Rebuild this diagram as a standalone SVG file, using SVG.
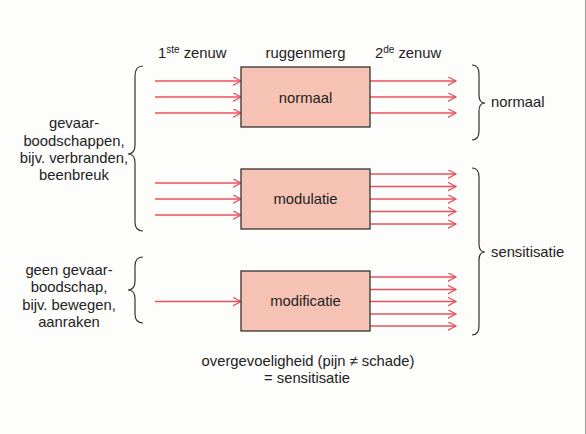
<svg xmlns="http://www.w3.org/2000/svg" width="586" height="434" viewBox="0 0 586 434">
<style>
text{font-family:"Liberation Sans",Arial,sans-serif;font-size:14.8px;fill:#222}
.mid{text-anchor:middle}
.box{fill:#f6c2b4;stroke:#333;stroke-width:1.3}
.arr{stroke:#e8505e;stroke-width:1.3;fill:none;marker-end:url(#ah)}
.brace{fill:none;stroke:#333;stroke-width:1.2}
</style>
<defs>
<marker id="ah" markerWidth="10" markerHeight="10" refX="8.5" refY="4.5" orient="auto" markerUnits="userSpaceOnUse">
<path d="M0,0 L8.5,4.5 L0,9" fill="none" stroke="#e8505e" stroke-width="1.2"/>
</marker>
</defs>
<rect x="0" y="0" width="586" height="434" fill="#fdfdfc"/>
<line x1="585.5" y1="0" x2="585.5" y2="434" stroke="#999" stroke-width="1"/>

<g id="headers">
<text x="158" y="58">1<tspan font-size="10" dy="-5">ste</tspan><tspan dy="5"> zenuw</tspan></text>
<text class="mid" x="305.5" y="58">ruggenmerg</text>
<text x="375" y="58">2<tspan font-size="10" dy="-5">de</tspan><tspan dy="5"> zenuw</tspan></text>
</g>

<g id="connectors">
<line class="arr" x1="155" y1="81" x2="241" y2="81"/>
<line class="arr" x1="155" y1="97" x2="241" y2="97"/>
<line class="arr" x1="155" y1="113" x2="241" y2="113"/>
<line class="arr" x1="370" y1="81" x2="456" y2="81"/>
<line class="arr" x1="370" y1="97" x2="456" y2="97"/>
<line class="arr" x1="370" y1="113" x2="456" y2="113"/>

<line class="arr" x1="155" y1="183" x2="241" y2="183"/>
<line class="arr" x1="155" y1="199" x2="241" y2="199"/>
<line class="arr" x1="155" y1="215" x2="241" y2="215"/>
<line class="arr" x1="370" y1="174" x2="456" y2="174"/>
<line class="arr" x1="370" y1="186.5" x2="456" y2="186.5"/>
<line class="arr" x1="370" y1="199" x2="456" y2="199"/>
<line class="arr" x1="370" y1="211.5" x2="456" y2="211.5"/>
<line class="arr" x1="370" y1="224" x2="456" y2="224"/>

<line class="arr" x1="155" y1="301.5" x2="241" y2="301.5"/>
<line class="arr" x1="370" y1="277" x2="456" y2="277"/>
<line class="arr" x1="370" y1="289.5" x2="456" y2="289.5"/>
<line class="arr" x1="370" y1="301.5" x2="456" y2="301.5"/>
<line class="arr" x1="370" y1="314" x2="456" y2="314"/>
<line class="arr" x1="370" y1="326" x2="456" y2="326"/>
</g>

<g id="node-normaal">
<rect class="box" x="241" y="67" width="129" height="60"/>
<text class="mid" x="305.5" y="103">normaal</text>
</g>
<g id="node-modulatie">
<rect class="box" x="241" y="169" width="129" height="60"/>
<text class="mid" x="305.5" y="204">modulatie</text>
</g>
<g id="node-modificatie">
<rect class="box" x="241" y="271" width="129" height="60"/>
<text class="mid" x="305.5" y="306">modificatie</text>
</g>

<g id="braces">
<path class="brace" d="M143,66 Q135,66 135,76 L135,145 Q135,154 128,154 Q135,154 135,163 L135,222 Q135,231 143,231"/>
<path class="brace" d="M143,257 Q135,257 135,266 L135,281 Q135,290 128,290 Q135,290 135,299 L135,314 Q135,323 143,323"/>
<path class="brace" d="M472,65 Q479,65 479,74 L479,95 Q479,103 485,103 Q479,103 479,111 L479,131 Q479,140 472,140"/>
<path class="brace" d="M472,168 Q479,168 479,177 L479,244 Q479,252 485,252 Q479,252 479,260 L479,326 Q479,335 472,335"/>
</g>

<g id="label-gevaar">
<text class="mid" x="74" y="128">gevaar-</text>
<text class="mid" x="74" y="146">boodschappen,</text>
<text class="mid" x="74" y="163">bijv. verbranden,</text>
<text class="mid" x="74" y="180">beenbreuk</text>
</g>
<g id="label-geen">
<text class="mid" x="69" y="275">geen gevaar-</text>
<text class="mid" x="69" y="292">boodschap,</text>
<text class="mid" x="69" y="309.5">bijv. bewegen,</text>
<text class="mid" x="69" y="327">aanraken</text>
</g>
<g id="label-right">
<text x="491" y="107">normaal</text>
<text x="491" y="257">sensitisatie</text>
</g>
<g id="footer">
<text class="mid" x="308" y="366">overgevoeligheid (pijn ≠ schade)</text>
<text class="mid" x="307" y="383">= sensitisatie</text>
</g>
</svg>
